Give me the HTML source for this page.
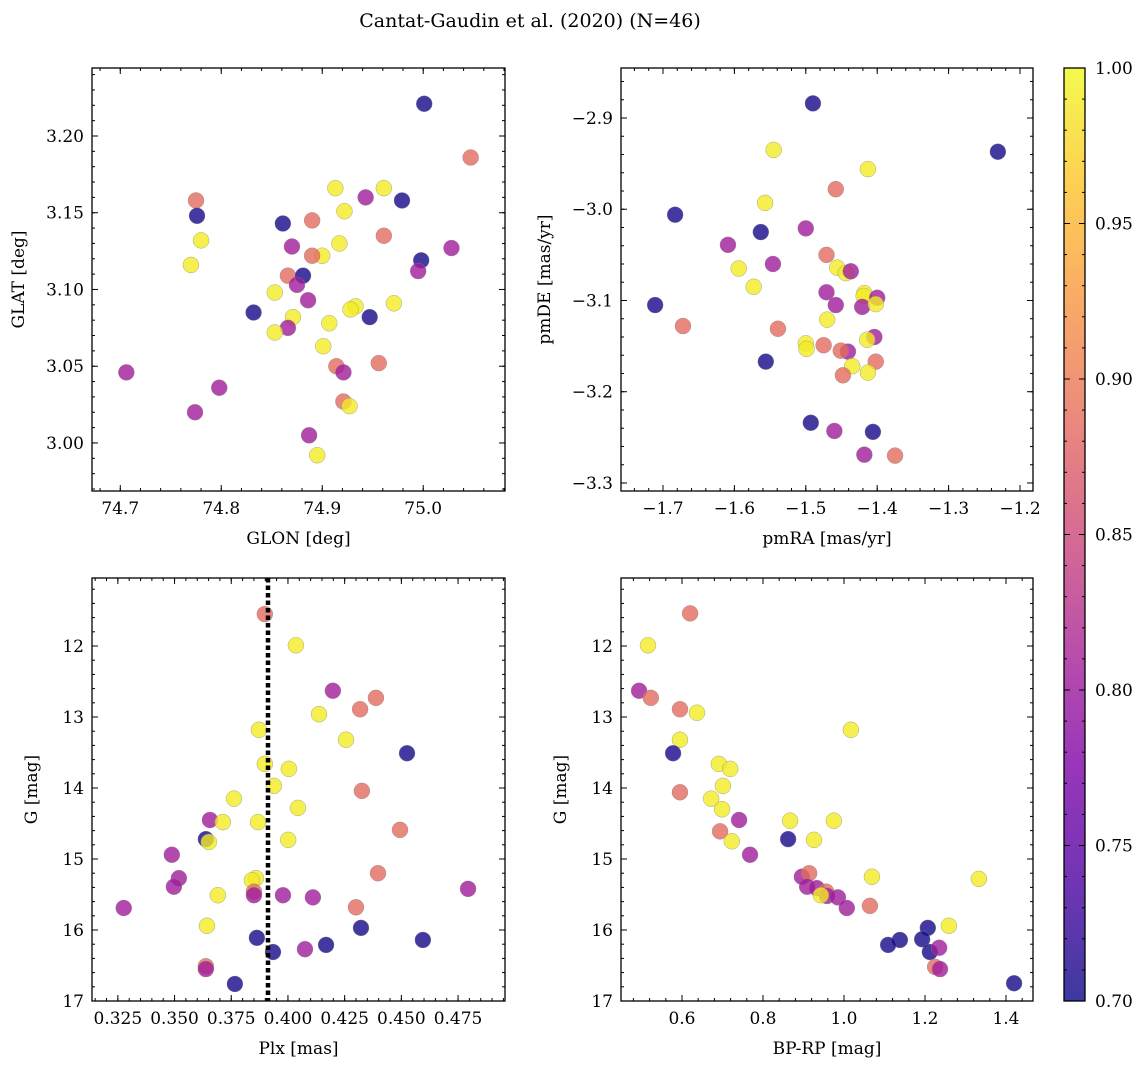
<!DOCTYPE html>
<html><head><meta charset="utf-8"><style>
body{margin:0;background:#fff;width:1148px;height:1068px;overflow:hidden}
svg{font-family:"DejaVu Serif","Liberation Serif",serif}
</style></head><body>
<svg id="fig" width="1148" height="1068" xmlns="http://www.w3.org/2000/svg">
<defs><linearGradient id="cbg" x1="0" y1="1" x2="0" y2="0">
<stop offset="0" stop-color="#0d0887"/><stop offset="0.125" stop-color="#4c02a1"/><stop offset="0.25" stop-color="#7e03a8"/><stop offset="0.375" stop-color="#a82296"/><stop offset="0.5" stop-color="#cc4778"/><stop offset="0.625" stop-color="#e66c5c"/><stop offset="0.75" stop-color="#f89540"/><stop offset="0.875" stop-color="#fdc328"/><stop offset="1" stop-color="#f0f921"/></linearGradient></defs>
<text x="530" y="27" font-size="19" text-anchor="middle">Cantat-Gaudin et al. (2020) (N=46)</text>
</svg>
<script>
// Panel 1: GLON / GLAT
const glon=[75.001,75.047,74.775,74.776,74.780,74.770,74.913,74.943,74.961,74.979,74.922,74.861,74.890,74.961,74.917,75.028,74.870,74.900,74.890,74.998,74.995,74.866,74.881,74.875,74.853,74.871,74.832,74.886,74.933,74.928,74.971,74.947,74.907,74.866,74.853,74.901,74.706,74.914,74.956,74.921,74.798,74.774,74.921,74.927,74.887,74.895];
const glat=[3.221,3.186,3.158,3.148,3.132,3.116,3.166,3.160,3.166,3.158,3.151,3.143,3.145,3.135,3.130,3.127,3.128,3.122,3.122,3.119,3.112,3.109,3.109,3.103,3.098,3.082,3.085,3.093,3.089,3.087,3.091,3.082,3.078,3.075,3.072,3.063,3.046,3.050,3.052,3.046,3.036,3.020,3.027,3.024,3.005,2.992];
const prob1=[0.705,0.885,0.885,0.705,0.99,0.99,0.99,0.805,0.99,0.705,0.99,0.705,0.885,0.885,0.99,0.805,0.805,0.99,0.885,0.705,0.805,0.885,0.705,0.805,0.99,0.99,0.705,0.805,0.99,0.99,0.99,0.705,0.99,0.805,0.99,0.99,0.805,0.885,0.885,0.805,0.805,0.805,0.885,0.99,0.805,0.99];
// Panel 2: pmRA / pmDE
const pmra=[-1.490,-1.231,-1.545,-1.413,-1.458,-1.557,-1.683,-1.563,-1.500,-1.609,-1.594,-1.546,-1.456,-1.471,-1.444,-1.437,-1.573,-1.471,-1.418,-1.419,-1.400,-1.421,-1.402,-1.458,-1.711,-1.672,-1.470,-1.539,-1.404,-1.414,-1.500,-1.499,-1.475,-1.441,-1.451,-1.556,-1.402,-1.435,-1.448,-1.413,-1.493,-1.460,-1.406,-1.418,-1.375];
const pmde=[-2.884,-2.937,-2.935,-2.956,-2.978,-2.993,-3.006,-3.025,-3.021,-3.039,-3.065,-3.060,-3.064,-3.050,-3.070,-3.068,-3.085,-3.091,-3.092,-3.095,-3.097,-3.107,-3.104,-3.105,-3.105,-3.128,-3.121,-3.131,-3.140,-3.143,-3.147,-3.153,-3.149,-3.156,-3.155,-3.167,-3.167,-3.172,-3.182,-3.179,-3.234,-3.243,-3.244,-3.269,-3.270];
const prob2=[0.705,0.705,0.99,0.99,0.885,0.99,0.705,0.705,0.805,0.805,0.99,0.805,0.99,0.885,0.99,0.805,0.99,0.805,0.99,0.99,0.805,0.805,0.99,0.805,0.705,0.885,0.99,0.885,0.805,0.99,0.99,0.99,0.885,0.805,0.885,0.705,0.885,0.99,0.885,0.99,0.705,0.805,0.705,0.805,0.885];
// Panel 3: Plx / G
const plx=[0.3898,0.4035,0.4198,0.4388,0.4318,0.4137,0.4256,0.3872,0.4525,0.3898,0.4004,0.3938,0.3762,0.4044,0.4326,0.3656,0.3713,0.3868,0.4494,0.3638,0.3651,0.4001,0.3488,0.3519,0.3497,0.4397,0.3859,0.3841,0.3691,0.3850,0.3850,0.3978,0.4110,0.4794,0.3276,0.4300,0.3643,0.4322,0.3863,0.4595,0.4168,0.4075,0.3934,0.3638,0.3638,0.3766];
const gmag3=[11.55,11.99,12.63,12.73,12.89,12.96,13.32,13.18,13.51,13.66,13.73,13.97,14.15,14.28,14.04,14.45,14.48,14.48,14.59,14.72,14.76,14.73,14.94,15.27,15.39,15.20,15.27,15.30,15.51,15.46,15.51,15.51,15.54,15.42,15.69,15.68,15.94,15.97,16.11,16.14,16.21,16.27,16.31,16.51,16.55,16.76];
const prob3=[0.885,0.99,0.805,0.885,0.885,0.99,0.99,0.99,0.705,0.99,0.99,0.99,0.99,0.99,0.885,0.805,0.99,0.99,0.885,0.705,0.99,0.99,0.805,0.805,0.805,0.885,0.99,0.99,0.99,0.885,0.805,0.805,0.805,0.805,0.805,0.885,0.99,0.705,0.705,0.705,0.705,0.805,0.705,0.885,0.805,0.705];
// Panel 4: BP-RP / G
const bprp=[0.620,0.516,0.494,0.523,0.595,0.637,1.017,0.595,0.578,0.691,0.719,0.701,0.595,0.672,0.699,0.741,0.694,0.723,0.768,0.867,0.975,0.862,0.926,0.896,0.914,1.069,1.333,0.909,0.933,0.956,0.958,0.943,0.985,1.007,1.064,1.207,1.259,1.193,1.138,1.109,1.212,1.235,1.225,1.237,1.420];
const gmag4=[11.54,11.99,12.63,12.73,12.89,12.94,13.18,13.32,13.51,13.66,13.73,13.97,14.06,14.15,14.30,14.45,14.61,14.75,14.94,14.46,14.46,14.72,14.73,15.25,15.20,15.25,15.28,15.39,15.41,15.46,15.52,15.51,15.54,15.69,15.66,15.97,15.94,16.13,16.14,16.21,16.31,16.25,16.52,16.55,16.75];
const prob4=[0.885,0.99,0.805,0.885,0.885,0.99,0.99,0.99,0.705,0.99,0.99,0.99,0.885,0.99,0.99,0.805,0.885,0.99,0.805,0.99,0.99,0.705,0.99,0.805,0.885,0.99,0.99,0.805,0.805,0.885,0.805,0.99,0.805,0.805,0.885,0.705,0.99,0.705,0.705,0.705,0.705,0.805,0.885,0.805,0.705];
const plxRef=[0.3912];
const cbTicks=[0.70,0.75,0.80,0.85,0.90,0.95,1.00];

const NS="http://www.w3.org/2000/svg";
const fig=document.getElementById('fig');
function mk(tag,attrs,parent){const e=document.createElementNS(NS,tag);for(const k in attrs)e.setAttribute(k,attrs[k]);(parent||fig).appendChild(e);return e;}
const stops=[[13,8,135],[76,2,161],[126,3,168],[168,34,150],[204,71,120],[230,108,92],[248,149,64],[253,195,40],[240,249,33]];
function plasma(v){let t=(v-0.7)/0.3;t=Math.max(0,Math.min(1,t))*8;const i=Math.min(7,Math.floor(t)),f=t-i;const a=stops[i],b=stops[i+1];return 'rgb('+a.map((x,k)=>Math.round(x+(b[k]-x)*f)).join(',')+')';}
function fmt(v,d){const s=Math.abs(v).toFixed(d);return (v<-1e-9?'−':'')+s;}

function panel(name,box,xr,yr,xt,xm,yt,ym,xd,yd,xs,ys,cs,xlab,ylab,yoff){
  const [L,T,R,B]=box;
  const sx=v=>L+(v-xr[0])/(xr[1]-xr[0])*(R-L);
  const sy=v=>T+(v-yr[0])/(yr[1]-yr[0])*(B-T);
  const g=mk('g',{});
  
  
  const eps=1e-9;
  for(let v=Math.ceil(Math.min(...xr)/xm-eps)*xm;v<=Math.max(...xr)+eps;v+=xm){const x=sx(v);mk('line',{x1:x,x2:x,y1:B,y2:B-3,stroke:'#000'},g);mk('line',{x1:x,x2:x,y1:T,y2:T+3,stroke:'#000'},g);}
  for(let v=Math.ceil(Math.min(...yr)/ym-eps)*ym;v<=Math.max(...yr)+eps;v+=ym){const y=sy(v);mk('line',{x1:L,x2:L+3,y1:y,y2:y,stroke:'#000'},g);mk('line',{x1:R,x2:R-3,y1:y,y2:y,stroke:'#000'},g);}
  xt.forEach(v=>{const x=sx(v);mk('line',{x1:x,x2:x,y1:B,y2:B-6,stroke:'#000'},g);mk('line',{x1:x,x2:x,y1:T,y2:T+6,stroke:'#000'},g);
    const t=mk('text',{x:x,y:B+23,'font-size':17,'text-anchor':'middle'},g);t.textContent=fmt(v,xd);
    });
  yt.forEach(v=>{const y=sy(v);mk('line',{x1:L,x2:L+6,y1:y,y2:y,stroke:'#000'},g);mk('line',{x1:R,x2:R-6,y1:y,y2:y,stroke:'#000'},g);
    const t=mk('text',{x:L-8,y:y+6,'font-size':17,'text-anchor':'end'},g);t.textContent=fmt(v,yd);
    });
  for(let i=0;i<xs.length;i++){
    const c=mk('circle',{cx:sx(xs[i]),cy:sy(ys[i]),r:8,fill:plasma(cs[i]),'fill-opacity':0.8,stroke:'#888','stroke-width':0.5,'stroke-opacity':0.7},g);
    
    
  }
  mk('rect',{x:L,y:T,width:R-L,height:B-T,fill:'none',stroke:'#000','stroke-width':1.3},g);
  const xl=mk('text',{x:(L+R)/2,y:B+53,'font-size':17,'text-anchor':'middle'},g);xl.textContent=xlab;
  
  const cx=L-yoff,cy=(T+B)/2;
  const yl=mk('text',{x:cx,y:cy,'font-size':17,'text-anchor':'middle',transform:'rotate(-90 '+cx+' '+cy+')'},g);yl.textContent=ylab;
  
  return {sx,sy,g};
}
panel('glon-glat',[92,68,505,491],[74.672,75.081],[3.2443,2.9687],[74.7,74.8,74.9,75.0],0.02,[3.0,3.05,3.1,3.15,3.2],0.01,1,2,glon,glat,prob1,'GLON [deg]','GLAT [deg]',68);
panel('pm',[621,68,1033,491],[-1.7588,-1.1818],[-2.8452,-3.3088],[-1.7,-1.6,-1.5,-1.4,-1.3,-1.2],0.02,[-2.9,-3.0,-3.1,-3.2,-3.3],0.02,1,1,pmra,pmde,prob2,'pmRA [mas/yr]','pmDE [mas/yr]',71);
const p3=panel('plx-g',[92,578,505,1001],[0.3136,0.4957],[11.042,17],[0.325,0.35,0.375,0.4,0.425,0.45,0.475],0.005,[12,13,14,15,16,17],0.2,3,0,plx,gmag3,prob3,'Plx [mas]','G [mag]',55);
plxRef.forEach(v=>{const l=mk('line',{x1:p3.sx(v),x2:p3.sx(v),y1:578,y2:1001,stroke:'#000','stroke-width':4.5,'stroke-dasharray':'4.5,3'},p3.g);
  });
panel('cmd',[621,578,1033,1001],[0.4494,1.4667],[0.6,0.8,1.0,1.2,1.4].length?[11.042,17]:[],[0.6,0.8,1.0,1.2,1.4],0.04,[12,13,14,15,16,17],0.2,1,0,bprp,gmag4,prob4,'BP-RP [mag]','G [mag]',55);

// colorbar
const cb=mk('g',{});


const cT=68,cB=1001,cL=1064,cR=1085;
const cy=v=>cB-(v-0.7)/0.3*(cB-cT);
mk('rect',{x:cL,y:cT,width:cR-cL,height:cB-cT,fill:'url(#cbg)','fill-opacity':0.8},cb);
for(let v=0.70;v<=1.0001;v+=0.01){const y=cy(v);mk('line',{x1:cR,x2:cR-3,y1:y,y2:y,stroke:'#000'},cb);mk('line',{x1:cL,x2:cL+3,y1:y,y2:y,stroke:'#000'},cb);}
cbTicks.forEach(v=>{const y=cy(v);mk('line',{x1:cR,x2:cR-6,y1:y,y2:y,stroke:'#000'},cb);mk('line',{x1:cL,x2:cL+6,y1:y,y2:y,stroke:'#000'},cb);
  const t=mk('text',{x:cR+10,y:y+6,'font-size':17},cb);t.textContent=v.toFixed(2);
  });
mk('rect',{x:cL,y:cT,width:cR-cL,height:cB-cT,fill:'none',stroke:'#000','stroke-width':1.3},cb);
</script>
</body></html>
